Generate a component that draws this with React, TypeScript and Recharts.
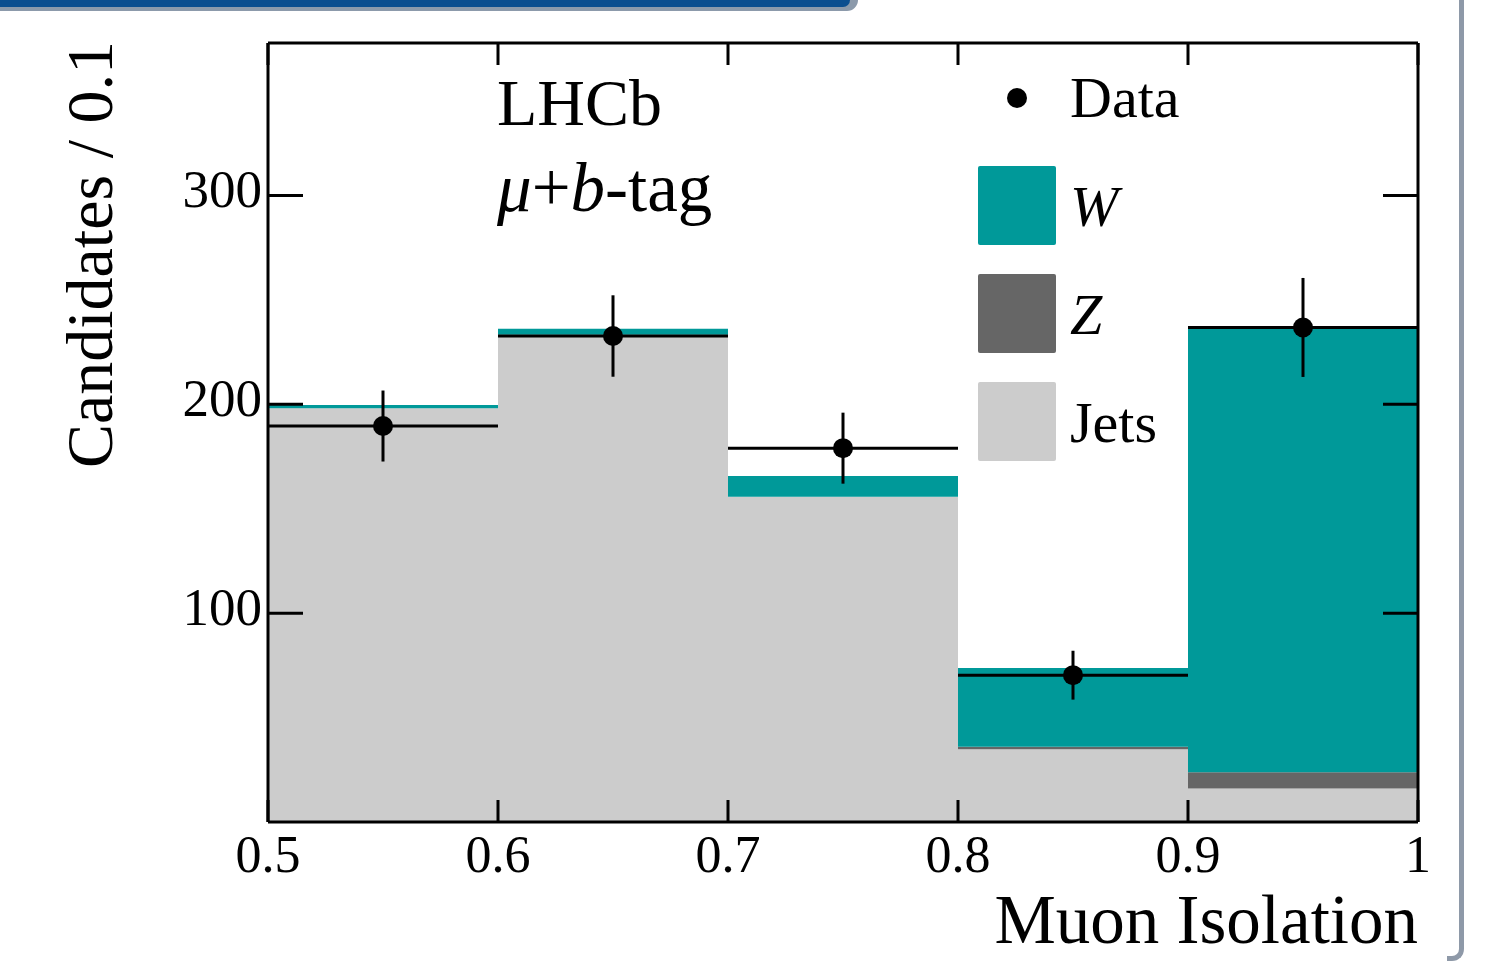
import { ComposedChart, Area, Scatter, ErrorBar, XAxis, YAxis, Legend } from "recharts";

// histogram bins (Muon Isolation), stacked MC templates
const binEdges = [0.5, 0.6, 0.7, 0.8, 0.9, 1.0];
const jetsCounts = [198.1, 233.3, 155.7, 34.8, 16.1];
const zCounts = [0, 0, 0, 1.2, 7.7];
const wCounts = [1.6, 2.9, 10.0, 37.7, 213.5];

// data points with stat. errors
const dataCenters = [0.55, 0.65, 0.75, 0.85, 0.95];
const dataCounts = [189.6, 232.7, 179.0, 70.3, 236.8];
const dataErrors = [17, 19.5, 17, 11.7, 23.7];
const binHalfWidth = 0.05;

const xTicks = [0.5, 0.6, 0.7, 0.8, 0.9, 1];
const yTicks = [100, 200, 300];
const yMax = 373;

const COLORS = { w: "#009999", z: "#666666", jets: "#cccccc", data: "#000000" };
const FONT = "'Liberation Serif', 'DejaVu Serif', serif";

const legendItems = [
  { name: "Data", kind: "dot", color: COLORS.data, italic: false },
  { name: "W", kind: "box", color: COLORS.w, italic: true },
  { name: "Z", kind: "box", color: COLORS.z, italic: true },
  { name: "Jets", kind: "box", color: COLORS.jets, italic: false },
];

// last edge repeats the last bin so the step closes at x = 1
const histRows = binEdges.map((edge, i) => {
  const b = Math.min(i, jetsCounts.length - 1);
  return { x: edge, jets: jetsCounts[b], z: zCounts[b], w: wCounts[b] };
});

const dataRows = dataCenters.map((c, i) => ({ x: c, y: dataCounts[i], ey: dataErrors[i], ex: binHalfWidth }));

function LeftTick({ x, y, payload }: any) {
  return (
    <g>
      <line x1={x} x2={x + 35} y1={y} y2={y} stroke="#000" strokeWidth={3} />
      <text x={x - 6} y={y + 12} textAnchor="end" fontSize={53} fontFamily={FONT} fill="#000">
        {payload.value}
      </text>
    </g>
  );
}

function RightTick({ x, y }: any) {
  return <line x1={x - 35} x2={x} y1={y} y2={y} stroke="#000" strokeWidth={3} />;
}

function BottomTick({ x, y, payload }: any) {
  return (
    <g>
      <line x1={x} x2={x} y1={y} y2={y - 22} stroke="#000" strokeWidth={3} />
      <text x={x} y={y + 50} textAnchor="middle" fontSize={52} fontFamily={FONT} fill="#000">
        {String(payload.value)}
      </text>
    </g>
  );
}

function TopTick({ x, y }: any) {
  return <line x1={x} x2={x} y1={y} y2={y + 22} stroke="#000" strokeWidth={3} />;
}

function HistLegend() {
  return (
    <svg width={240} height={420} style={{ display: "block" }}>
      {legendItems.map((it, i) => {
        const top = i === 0 ? 0 : 106 + (i - 1) * 108;
        if (it.kind === "dot") {
          return (
            <g key={it.name}>
              <circle cx={57} cy={38} r={10} fill={it.color} />
              <text x={110} y={57} fontSize={58} fontFamily={FONT} fill="#000">{it.name}</text>
            </g>
          );
        }
        return (
          <g key={it.name}>
            <rect x={18} y={top} width={78} height={79} rx={2} fill={it.color} />
            <text x={110} y={top + 60} fontSize={58} fontFamily={FONT} fontStyle={it.italic ? "italic" : "normal"} fill="#000">
              {it.name}
            </text>
          </g>
        );
      })}
    </svg>
  );
}

export default function App() {
  return (
    <div style={{ position: "absolute", left: 0, top: 0, width: 1499, height: 961, background: "#fff", overflow: "hidden" }}>
      {/* slide frame */}
      <div style={{ position: "absolute", left: 0, top: 0, width: 858, height: 11, background: "#8c9aab", borderBottomRightRadius: 14 }} />
      <div style={{ position: "absolute", left: 0, top: 0, width: 850, height: 7, background: "#0b4e8f", borderBottomRightRadius: 12 }} />
      <div style={{ position: "absolute", left: 1447, top: -10, width: 12, height: 966, borderRight: "5px solid #8e99a8", borderBottom: "5px solid #8e99a8", borderBottomRightRadius: 12 }} />

      <ComposedChart width={1499} height={961} data={histRows} margin={{ top: 42, right: 80, bottom: 138, left: 267 }}>
        <Area type="stepAfter" dataKey="jets" name="Jets" stackId="mc" fill={COLORS.jets} fillOpacity={1} stroke="none" isAnimationActive={false} />
        <Area type="stepAfter" dataKey="z" name="Z" stackId="mc" fill={COLORS.z} fillOpacity={1} stroke="none" isAnimationActive={false} />
        <Area type="stepAfter" dataKey="w" name="W" stackId="mc" fill={COLORS.w} fillOpacity={1} stroke="none" isAnimationActive={false} />
        <Scatter
          data={dataRows}
          dataKey="y"
          name="Data"
          fill={COLORS.data}
          isAnimationActive={false}
          shape={(p: any) => <circle cx={p.cx} cy={p.cy} r={10} fill={COLORS.data} />}
        >
          <ErrorBar dataKey="ey" direction="y" width={0} stroke="#000" strokeWidth={3} isAnimationActive={false} />
          <ErrorBar dataKey="ex" direction="x" width={0} stroke="#000" strokeWidth={3} isAnimationActive={false} />
        </Scatter>
        <XAxis
          dataKey="x"
          type="number"
          domain={[0.5, 1]}
          ticks={xTicks}
          allowDataOverflow
          height={1}
          tickSize={0}
          tickMargin={0}
          tickLine={false}
          axisLine={{ stroke: "#000", strokeWidth: 3 }}
          tick={<BottomTick />}
          interval={0}
          label={(p: any) => (
            <text
              x={p.viewBox.x + p.viewBox.width}
              y={p.viewBox.y + 121}
              textAnchor="end"
              fontSize={69}
              fontFamily={FONT}
              fill="#000"
            >
              Muon Isolation
            </text>
          )}
        />
        <XAxis
          xAxisId="top"
          orientation="top"
          dataKey="x"
          type="number"
          domain={[0.5, 1]}
          ticks={xTicks}
          allowDataOverflow
          height={1}
          tickSize={0}
          tickMargin={0}
          tickLine={false}
          axisLine={{ stroke: "#000", strokeWidth: 3 }}
          tick={<TopTick />}
          interval={0}
        />
        <YAxis
          type="number"
          domain={[0, yMax]}
          ticks={yTicks}
          allowDataOverflow
          width={1}
          tickSize={0}
          tickMargin={0}
          tickLine={false}
          axisLine={{ stroke: "#000", strokeWidth: 3 }}
          tick={<LeftTick />}
          interval={0}
          label={(p: any) => {
            const lx = p.viewBox.x - 155;
            const ly = p.viewBox.y - 2;
            return (
              <text x={lx} y={ly} transform={`rotate(-90, ${lx}, ${ly})`} textAnchor="end" fontSize={66} fontFamily={FONT} fill="#000">
                Candidates / 0.1
              </text>
            );
          }}
        />
        <YAxis
          yAxisId="right"
          orientation="right"
          type="number"
          domain={[0, yMax]}
          ticks={yTicks}
          allowDataOverflow
          width={1}
          tickSize={0}
          tickMargin={0}
          tickLine={false}
          axisLine={{ stroke: "#000", strokeWidth: 3 }}
          tick={<RightTick />}
          interval={0}
        />
        <Legend
          layout="vertical"
          align="center"
          verticalAlign="middle"
          wrapperStyle={{ left: 960, top: 60, width: 240, height: 420 }}
          content={() => <HistLegend />}
        />
      </ComposedChart>

      {/* experiment / selection labels */}
      <svg width={1499} height={961} style={{ position: "absolute", left: 0, top: 0, pointerEvents: "none" }}>
        <text x={497} y={125} fontSize={66} fontFamily={FONT} fill="#000">LHCb</text>
        <text x={497} y={211} fontSize={69} fontFamily={FONT} fill="#000">
          <tspan fontStyle="italic">μ</tspan>
          <tspan>+</tspan>
          <tspan fontStyle="italic">b</tspan>
          <tspan>-tag</tspan>
        </text>
      </svg>
    </div>
  );
}
